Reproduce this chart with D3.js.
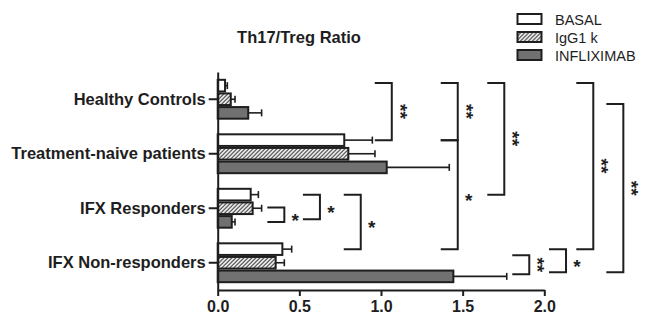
<!DOCTYPE html>
<html>
<head>
<meta charset="utf-8">
<script src="https://cdn.jsdelivr.net/npm/d3@7"></script>
<style>
  body { margin: 0; background: #fff; }
  svg { display: block; font-family: Arial, "Liberation Sans", sans-serif; }
</style>
</head>
<body>
<div id="chart"></div>
<script>
// data (mean and SEM per group)
var categories = ["Healthy Controls", "Treatment-naive patients", "IFX Responders", "IFX Non-responders"];
var seriesNames = ["BASAL", "IgG1 k", "INFLIXIMAB"];
var basal    = [0.045, 0.775, 0.202, 0.396];
var basalSem = [0.014, 0.172, 0.047, 0.057];
var igg      = [0.080, 0.800, 0.214, 0.355];
var iggSem   = [0.026, 0.163, 0.055, 0.053];
var ifx      = [0.187, 1.035, 0.086, 1.443];
var ifxSem   = [0.082, 0.383, 0.020, 0.327];
var xTicks = [0, 0.5, 1, 1.5, 2];

// significance brackets: [from category, from series pos, to category, to series pos, x value, label]
var brackets = [
  ["Healthy Controls", -0.2, "Treatment-naive patients", 0, 1.066, "**"],
  ["Healthy Controls", -0.2, "Treatment-naive patients", 0, 1.470, "**"],
  ["Treatment-naive patients", 0, "IFX Non-responders", 0, 1.470, "*"],
  ["Healthy Controls", -0.2, "IFX Responders", 0, 1.755, "**"],
  ["Healthy Controls", -0.2, "IFX Non-responders", 0, 2.300, "**"],
  ["Healthy Controls", 1.35, "IFX Non-responders", 1.7, 2.484, "**"],
  ["IFX Responders", 0.95, "IFX Responders", 2, 0.408, "*"],
  ["IFX Responders", 0, "IFX Responders", 1.8, 0.626, "*"],
  ["IFX Responders", 0, "IFX Non-responders", 0, 0.876, "*"],
  ["IFX Non-responders", 0.45, "IFX Non-responders", 1.85, 1.908, "**"],
  ["IFX Non-responders", 0, "IFX Non-responders", 1.7, 2.133, "*"]
];

var ink = "#1e1e1e";
var fills = ["#ffffff", "url(#hatch)", "#717171"];

var margin = {top: 72, right: 103.7, bottom: 27, left: 217.7},
    width = 648 - margin.left - margin.right,
    height = 317 - margin.top - margin.bottom;

var svg = d3.select("#chart").append("svg")
    .attr("width", 648)
    .attr("height", 317);

var defs = svg.append("defs");
var pat = defs.append("pattern")
    .attr("id", "hatch")
    .attr("patternUnits", "userSpaceOnUse")
    .attr("width", 4).attr("height", 4);
pat.append("rect").attr("width", 4).attr("height", 4).attr("fill", "#fff");
pat.append("path")
    .attr("d", "M-1,1 l2,-2 M0,4 l4,-4 M3,5 l2,-2")
    .attr("stroke", "#333").attr("stroke-width", 1.2);

var g = svg.append("g")
    .attr("transform", "translate(" + margin.left + "," + margin.top + ")");

var x = d3.scaleLinear().domain([0, 2]).range([0, width]);
var y = d3.scaleBand().domain(categories).range([0, height])
    .paddingInner(0.25).paddingOuter(0.125);
var ys = d3.scaleBand().domain(d3.range(3)).range([0, y.bandwidth()]);

function yPos(cat, s) { return y(cat) + ys.step() * (s + 0.5); }

// build rows
var rows = [];
categories.forEach(function(c, i) {
  [[basal, basalSem], [igg, iggSem], [ifx, ifxSem]].forEach(function(p, s) {
    rows.push({cat: c, s: s, v: p[0][i], sem: p[1][i]});
  });
});

// error bars (upper side only is visible)
var eb = g.selectAll(".err").data(rows).enter().append("g").attr("class", "err");
eb.append("line")
    .attr("x1", function(d) { return x(d.v); })
    .attr("x2", function(d) { return x(d.v + d.sem); })
    .attr("y1", function(d) { return yPos(d.cat, d.s); })
    .attr("y2", function(d) { return yPos(d.cat, d.s); })
    .attr("stroke", ink).attr("stroke-width", 1.6);
eb.append("line")
    .attr("x1", function(d) { return x(d.v + d.sem); })
    .attr("x2", function(d) { return x(d.v + d.sem); })
    .attr("y1", function(d) { return yPos(d.cat, d.s) - 3.5; })
    .attr("y2", function(d) { return yPos(d.cat, d.s) + 3.5; })
    .attr("stroke", ink).attr("stroke-width", 1.6);

// bars
g.selectAll(".bar").data(rows).enter().append("rect")
    .attr("class", "bar")
    .attr("x", x(0))
    .attr("y", function(d) { return y(d.cat) + ys(d.s) + 1; })
    .attr("width", function(d) { return x(d.v) - x(0); })
    .attr("height", ys.bandwidth() - 2)
    .attr("fill", function(d) { return fills[d.s]; })
    .attr("stroke", ink).attr("stroke-width", 2);

// axes
var yAxis = g.append("g")
    .call(d3.axisLeft(y).tickSize(9).tickSizeOuter(0).tickPadding(3));
var xAxis = g.append("g")
    .attr("transform", "translate(0," + height + ")")
    .call(d3.axisBottom(x).tickValues(xTicks).tickFormat(d3.format(".1f")).tickSize(6).tickSizeOuter(0).tickPadding(5));
[yAxis, xAxis].forEach(function(a) {
  a.selectAll("path, line").attr("stroke", ink).attr("stroke-width", 2);
  a.selectAll("text").attr("fill", ink).style("font-weight", "bold")
    .style("font-family", "Arial, 'Liberation Sans', sans-serif");
});
yAxis.selectAll("text").style("font-size", "16.5px");
xAxis.selectAll("text").style("font-size", "16px");

// significance brackets
var arm = 17;
brackets.forEach(function(b) {
  var y1 = yPos(b[0], b[1]), y2 = yPos(b[2], b[3]), bx = x(b[4]);
  g.append("path")
      .attr("d", "M" + (bx - arm) + "," + y1 + "H" + bx + "V" + y2 + "H" + (bx - arm))
      .attr("fill", "none").attr("stroke", ink).attr("stroke-width", 2);
  var mid = (y1 + y2) / 2;
  if (b[5] === "**") {
    g.append("text")
        .attr("transform", "translate(" + (bx + 13 - 11) + "," + mid + ") rotate(90)")
        .attr("text-anchor", "middle")
        .attr("fill", ink).style("font-size", "19px").style("font-weight", "bold")
        .text(b[5]);
  } else {
    g.append("text")
        .attr("x", bx + 11).attr("y", mid + 12)
        .attr("text-anchor", "middle")
        .attr("fill", ink).style("font-size", "19px").style("font-weight", "bold")
        .text(b[5]);
  }
});

// title
svg.append("text")
    .attr("x", 299).attr("y", 43)
    .attr("text-anchor", "middle")
    .attr("fill", ink).style("font-size", "16.5px").style("font-weight", "bold")
    .text("Th17/Treg Ratio");

// legend
var leg = svg.append("g").attr("transform", "translate(517.5,14)");
seriesNames.forEach(function(name, i) {
  var row = leg.append("g").attr("transform", "translate(0," + (i * 18) + ")");
  row.append("rect").attr("width", 24).attr("height", 10)
      .attr("fill", fills[i]).attr("stroke", ink).attr("stroke-width", 2);
  row.append("text").attr("x", 37.5).attr("y", 10.5)
      .attr("fill", ink).style("font-size", "14.5px")
      .text(name);
});
</script>
</body>
</html>
